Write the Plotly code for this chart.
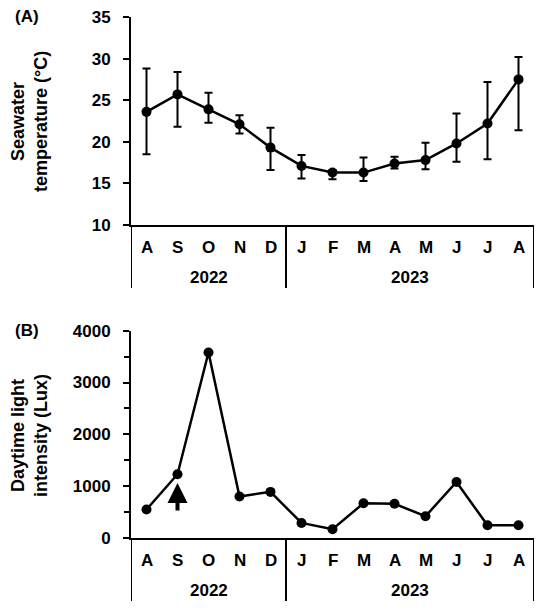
import plotly.graph_objects as go

months = ["A", "S", "O", "N", "D", "J", "F", "M", "A", "M", "J", "J", "A"]
years = ["2022", "2023"]
year_spans = [(0, 4), (5, 12)]

temp_mean = [23.6, 25.7, 23.9, 22.1, 19.3, 17.1, 16.3, 16.3, 17.4, 17.8, 19.8, 22.2, 27.5]
temp_upper = [28.8, 28.4, 25.9, 23.2, 21.7, 18.4, 16.6, 18.1, 18.2, 19.9, 23.4, 27.2, 30.2]
temp_lower = [18.5, 21.8, 22.3, 21.0, 16.6, 15.6, 15.5, 15.3, 16.8, 16.7, 17.6, 17.9, 21.4]

light = [550, 1230, 3580, 800, 890, 290, 170, 670, 660, 420, 1080, 245, 245]

arrow_month = 1
arrow_tip = 1060
arrow_tail = 500

x = list(range(len(months)))
err_plus = [u - m for u, m in zip(temp_upper, temp_mean)]
err_minus = [m - l for m, l in zip(temp_mean, temp_lower)]

FONT = "Liberation Sans, Arial, sans-serif"
OFF = 8  # page body margin
W, H = 550 - OFF, 609 - OFF


def px_x(p):
    return (p - OFF) / W


def px_y(p):
    return 1 - (p - OFF) / H


xdom = [px_x(131), px_x(534)]
ydomA = [px_y(225), px_y(17)]
ydomB = [px_y(538), px_y(330.7)]

fig = go.Figure()
fig.add_trace(go.Scatter(
    x=x, y=temp_mean, mode="lines+markers",
    line=dict(color="black", width=2.5),
    marker=dict(color="black", size=10),
    error_y=dict(type="data", symmetric=False, array=err_plus, arrayminus=err_minus,
                 color="black", thickness=2, width=4),
    xaxis="x", yaxis="y", showlegend=False, cliponaxis=False,
))
fig.add_trace(go.Scatter(
    x=x, y=light, mode="lines+markers",
    line=dict(color="black", width=2.5),
    marker=dict(color="black", size=10),
    xaxis="x2", yaxis="y2", showlegend=False, cliponaxis=False,
))

tickfont = dict(family=FONT, size=17, color="black", weight="bold")
xcommon = dict(range=[-0.5, len(months) - 0.5], showline=True, linecolor="black", linewidth=2,
               showticklabels=False, ticks="", showgrid=False, zeroline=False, domain=xdom,
               fixedrange=True, automargin=False)
ycommon = dict(showline=True, linecolor="black", linewidth=2, ticks="outside", ticklen=6,
               tickwidth=2, tickcolor="black", showgrid=False, zeroline=False, tickfont=tickfont,
               ticklabelstandoff=9, automargin=False, ticklabeloverflow="allow")
fig.update_layout(
    width=W, height=H, margin=dict(l=0, r=0, t=0, b=0),
    paper_bgcolor="white", plot_bgcolor="white",
    xaxis=dict(**xcommon, anchor="y"),
    xaxis2=dict(**xcommon, anchor="y2"),
    yaxis=dict(**ycommon, domain=ydomA, range=[10, 35], dtick=5, tick0=10, anchor="x"),
    yaxis2=dict(**ycommon, domain=ydomB, range=[0, 4000], dtick=1000, anchor="x2",
                minor=dict(dtick=500, ticks="outside", ticklen=5, tickwidth=2, tickcolor="black")),
)

labfont = dict(family=FONT, size=17, color="black", weight="bold")
annotations = []
shapes = []
for xa, ya, hpx in [("x", "y", 208.0), ("x2", "y2", 207.3)]:
    for i, m in enumerate(months):
        annotations.append(dict(x=i, y=-22 / hpx, xref=xa, yref=ya + " domain", text=m,
                                showarrow=False, yanchor="middle", xanchor="center", font=labfont))
    for yr, (a, b) in zip(years, year_spans):
        annotations.append(dict(x=(a + b) / 2, y=-52 / hpx, xref=xa, yref=ya + " domain", text=yr,
                                showarrow=False, yanchor="middle", xanchor="center", font=labfont))
    bounds = [-0.5] + [b + 0.5 for (a, b) in year_spans]
    for bx in bounds:
        shapes.append(dict(type="line", xref=xa, yref=ya + " domain", x0=bx, x1=bx,
                           y0=0, y1=-63 / hpx, line=dict(color="black", width=2)))

titlefont = dict(family=FONT, size=18, color="black", weight="bold")
annotations += [
    dict(x=px_x(27), y=px_y(17), xref="paper", yref="paper", text="(A)", showarrow=False,
         xanchor="center", yanchor="middle", font=labfont),
    dict(x=px_x(27), y=px_y(330), xref="paper", yref="paper", text="(B)", showarrow=False,
         xanchor="center", yanchor="middle", font=labfont),
    dict(x=px_x(29), y=px_y(122), xref="paper", yref="paper", text="Seawater<br>temperature (°C)",
         showarrow=False, textangle=-90, xanchor="center", yanchor="middle", font=titlefont),
    dict(x=px_x(29), y=px_y(436), xref="paper", yref="paper", text="Daytime light<br>intensity (Lux)",
         showarrow=False, textangle=-90, xanchor="center", yanchor="middle", font=titlefont),
    dict(x=arrow_month, y=arrow_tip, xref="x2", yref="y2", ax=arrow_month, ay=arrow_tail,
         axref="x2", ayref="y2", text="", showarrow=True, arrowhead=2, arrowsize=1,
         arrowwidth=4, arrowcolor="black", standoff=0),
]
fig.update_layout(annotations=annotations, shapes=shapes)
fig.write_html("out.html")
